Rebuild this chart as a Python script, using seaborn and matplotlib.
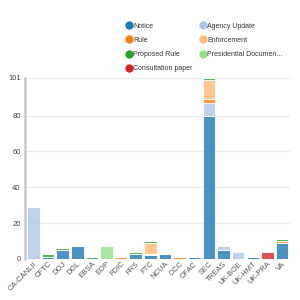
import pandas as pd
import numpy as np
import seaborn as sns
import matplotlib.pyplot as plt
from matplotlib.lines import Line2D

# agencies on the x axis
agencies = ['CA-CANLII', 'CFTC', 'DOJ', 'DOL', 'EBSA', 'EOP', 'FDIC', 'FRS', 'FTC',
            'NCUA', 'OCC', 'OFAC', 'SEC', 'TREAS', 'UK-BOE', 'UK-HMT', 'UK-PRA', 'VA']

# counts per document type (same order as agencies)
notice        = [0, 1, 5, 7, 0, 0, 0, 3, 2, 3, 0, 1, 80, 5, 0, 1, 0, 9]
agency_update = [29, 0, 0, 0, 0, 0, 0, 0, 1, 0, 0, 0, 7, 2, 4, 0, 0, 0]
rule          = [0, 0, 0, 0, 0, 0, 1, 0, 0, 0, 1, 0, 2, 0, 0, 0, 0, 1]
enforcement   = [0, 0, 0, 0, 0, 0, 0, 0, 6, 0, 0, 0, 11, 0, 0, 0, 0, 0]
proposed_rule = [0, 2, 1, 0, 1, 0, 0, 1, 1, 0, 0, 0, 1, 0, 0, 0, 0, 1]
presidential  = [0, 0, 0, 0, 0, 7, 0, 0, 0, 0, 0, 0, 0, 0, 0, 0, 0, 0]
consultation  = [0, 0, 0, 0, 0, 0, 0, 0, 0, 0, 0, 0, 0, 0, 0, 0, 4, 0]

types = ['Notice', 'Agency Update', 'Rule', 'Enforcement', 'Proposed Rule',
         'Presidential Document', 'Consultation paper']
series = [notice, agency_update, rule, enforcement, proposed_rule, presidential, consultation]
colors = {'Notice': '#1f77b4', 'Agency Update': '#aec7e8', 'Rule': '#ff7f0e',
          'Enforcement': '#ffbb78', 'Proposed Rule': '#2ca02c',
          'Presidential Document': '#98df8a', 'Consultation paper': '#d62728'}

rows = []
for i, a in enumerate(agencies):
    for t, vals in zip(types, series):
        if vals[i] > 0:
            rows.append({'agency': a, 'type': t, 'count': vals[i]})
df = pd.DataFrame(rows)

sns.set_style('white')
plt.rcParams['font.family'] = ['Liberation Sans Narrow', 'Liberation Sans', 'DejaVu Sans']

fig = plt.figure(figsize=(3, 3), dpi=100)
ax = fig.add_axes([0.083, 0.137, 0.884, 0.603])

# seaborn stacks the last hue level at the bottom, so reverse the order
sns.histplot(data=df, x='agency', hue='type', weights='count', multiple='stack',
             discrete=True, shrink=0.86, hue_order=types[::-1], palette=colors,
             alpha=0.8, edgecolor='white', linewidth=0.6, legend=False, ax=ax)

ax.set_xlim(-0.58, 17.55)
ax.set_ylim(0, 101)
ax.set_yticks([0, 20, 40, 60, 80, 101])
ax.yaxis.grid(True, color='#ebebeb', linewidth=0.8)
ax.set_axisbelow(True)
ax.set_xlabel('')
ax.set_ylabel('')
for s in ['top', 'right', 'bottom']:
    ax.spines[s].set_visible(False)
ax.spines['left'].set_color('#c8c8c8')
ax.spines['left'].set_linewidth(1.8)
ax.tick_params(axis='y', labelsize=5.5, colors='#444444', length=2, width=0.5, pad=1)
ax.tick_params(axis='x', labelsize=5.5, colors='#555555', length=0, pad=1)
plt.setp(ax.get_xticklabels(), rotation=45, ha='right', rotation_mode='anchor')

def legend_col(keys, labels, x):
    handles = [Line2D([], [], marker='o', linestyle='', markersize=5,
                      markerfacecolor=colors[k], markeredgecolor=colors[k]) for k in keys]
    leg = fig.legend(handles, labels, loc='upper left', bbox_to_anchor=(x, 0.925),
                     frameon=False, fontsize=5, labelcolor='#333333', handletextpad=0.15,
                     labelspacing=1.05, handlelength=1.0, borderaxespad=0, borderpad=0)
    return leg

legend_col(['Notice', 'Rule', 'Proposed Rule', 'Consultation paper'],
           ['Notice', 'Rule', 'Proposed Rule', 'Consultation paper'], 0.418)
legend_col(['Agency Update', 'Enforcement', 'Presidential Document'],
           ['Agency Update', 'Enforcement', 'Presidential Documen...'], 0.665)

fig.savefig('out.png', dpi=100)
